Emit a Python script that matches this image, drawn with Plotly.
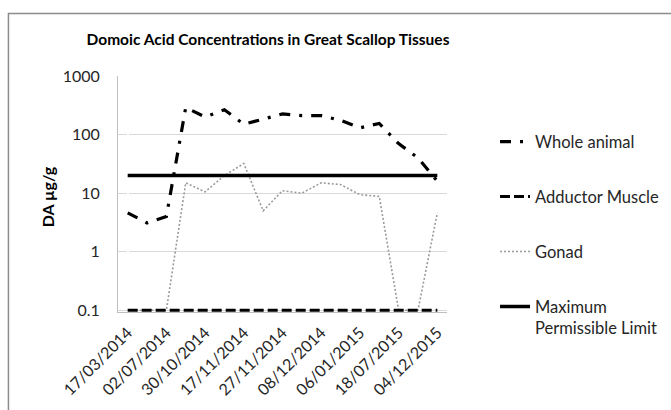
import plotly.graph_objects as go

# Sampling dates shown on the axis (every second sampling occasion is labelled)
date_labels = ["17/03/2014", "02/07/2014", "30/10/2014", "17/11/2014", "27/11/2014",
               "08/12/2014", "06/01/2015", "18/07/2015", "04/12/2015"]

# Sampling occasion index 0..16
sample = [0, 1, 2, 3, 4, 5, 6, 7, 8, 9, 10, 11, 12, 13, 14, 15, 16]

# Domoic acid concentrations (µg/g)
whole_animal = [4.6, 3.1, 4.0, 290, 200, 265, 150, 185, 225, 210, 210, 175, 130, 155, 70, 40, 16]
adductor_muscle = [0.1, 0.1, 0.1, 0.1, 0.1, 0.1, 0.1, 0.1, 0.1, 0.1, 0.1, 0.1, 0.1, 0.1, 0.1, 0.1, 0.1]
gonad = [0.1, 0.1, 0.1, 15, 10.5, 20, 32, 5, 11, 10, 15, 14, 9.4, 8.8, 0.1, 0.1, 4.6]
max_limit = [20, 20, 20, 20, 20, 20, 20, 20, 20, 20, 20, 20, 20, 20, 20, 20, 20]

y_ticks = [0.1, 1, 10, 100, 1000]
y_tick_text = ["0.1", "1", "10", "100", "1000"]

TEXT = "#262626"
FONT = "Lato"

fig = go.Figure()

fig.add_trace(go.Scatter(
    x=sample, y=gonad, name="Gonad", mode="lines",
    line=dict(color="#9a9a9a", width=1.6, dash="2px,2px"),
    legendgroup="g", legendrank=3,
))
fig.add_trace(go.Scatter(
    x=sample, y=adductor_muscle, name="Adductor Muscle", mode="lines",
    line=dict(color="black", width=3, dash="10px,4px"),
    legendgroup="a", legendrank=2,
))
fig.add_trace(go.Scatter(
    x=sample, y=max_limit, name="Maximum<br>Permissible Limit", mode="lines",
    line=dict(color="black", width=3.5),
    legendgroup="m", legendrank=4,
))
fig.add_trace(go.Scatter(
    x=sample, y=whole_animal, name="Whole animal", mode="lines",
    line=dict(color="black", width=3.2, dash="11px,9px,3px,9px"),
    legendgroup="w", legendrank=1,
))

fig.update_layout(
    width=671, height=410,
    margin=dict(l=118, r=224, t=76, b=98, autoexpand=False),
    paper_bgcolor="white", plot_bgcolor="white",
    font=dict(family=FONT, color=TEXT, size=16),
    title=dict(
        text="<b>Domoic Acid Concentrations in Great Scallop Tissues</b>",
        x=268 / 671, xanchor="center", xref="container",
        y=1 - 40 / 410, yanchor="middle", yref="container",
        font=dict(family=FONT, size=15.5, color="black"),
    ),
    xaxis=dict(
        range=[-0.5, 16.5],
        tickvals=sample[::2], ticktext=date_labels,
        tickangle=-45, ticks="", showgrid=False,
        showline=True, linecolor="#bfbfbf", linewidth=1,
        tickfont=dict(family=FONT, size=16, color=TEXT),
        ticklabelstandoff=4,
    ),
    yaxis=dict(
        type="log", range=[-1.03, 3],
        tickvals=y_ticks, ticktext=y_tick_text,
        ticks="", showgrid=True, gridcolor="#d9d9d9", gridwidth=1,
        showline=True, linecolor="#bfbfbf", linewidth=1,
        tickfont=dict(family=FONT, size=16, color=TEXT),
        ticklabelstandoff=14,
    ),
    legend=dict(
        x=1.146, xanchor="left", xref="paper",
        y=0.795, yanchor="top", yref="paper",
        font=dict(family=FONT, size=16.5, color=TEXT),
        tracegroupgap=30.5, valign="top",
        bgcolor="rgba(0,0,0,0)",
    ),
    showlegend=True,
)

# y axis title
fig.add_annotation(
    text="<b>DA µg/g</b>", textangle=-90,
    xref="paper", yref="paper", x=-0.216, y=0.49,
    xanchor="center", yanchor="middle", showarrow=False,
    font=dict(family=FONT, size=16, color="black"),
)

# chart area border
fig.add_shape(
    type="rect", xref="paper", yref="paper",
    x0=-0.333, x1=1.8, y0=-0.6, y1=1.265,
    line=dict(color="#8c8c8c", width=1.5), layer="below",
)

fig.write_html("out.html", config={"displayModeBar": False})
